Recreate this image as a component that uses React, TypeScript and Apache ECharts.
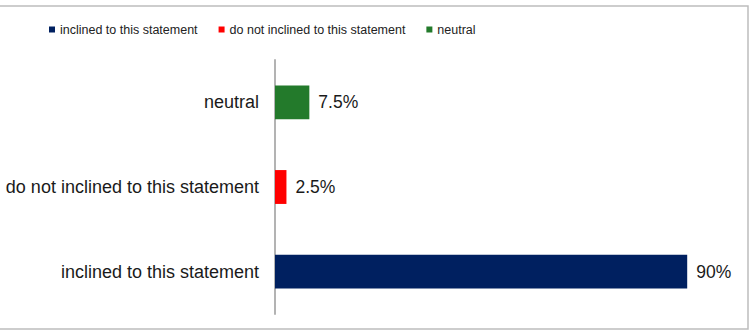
import React, { useEffect, useRef } from "react";
import * as echarts from "echarts";

const categories = [
  "inclined to this statement",
  "do not inclined to this statement",
  "neutral",
];
const seriesNames = [
  "inclined to this statement",
  "do not inclined to this statement",
  "neutral",
];
const values = [90, 2.5, 7.5];
const colors = ["#002060", "#ff0000", "#237a2b"];

export default function App() {
  const ref = useRef<HTMLDivElement>(null);
  useEffect(() => {
    if (!ref.current) return;
    const chart = echarts.init(ref.current, null, { renderer: "svg" });
    const font = "'Liberation Sans', Arial, sans-serif";
    chart.setOption({
      animation: false,
      backgroundColor: "#ffffff",
      textStyle: { fontFamily: font },
      graphic: [
        {
          type: "rect",
          shape: { x: -2, y: 6, width: 750, height: 323 },
          style: { fill: "none", stroke: "#bdbdbd", lineWidth: 1.5 },
          silent: true,
        },
      ],
      legend: {
        left: 49,
        top: 23,
        padding: 0,
        icon: "rect",
        itemWidth: 6,
        itemHeight: 6,
        itemGap: 21,
        textStyle: { fontFamily: font, fontSize: 12.5, color: "#222" },
        data: seriesNames,
      },
      grid: { left: 275, right: 19, top: 60, bottom: 21, containLabel: false },
      xAxis: {
        type: "value",
        min: 0,
        max: 100,
        show: false,
      },
      yAxis: {
        type: "category",
        data: categories,
        axisLine: { show: true, lineStyle: { color: "#b3b3b3", width: 2 } },
        axisTick: { show: false },
        axisLabel: {
          margin: 16,
          fontSize: 18,
          color: "#1a1a1a",
          fontFamily: font,
        },
        splitLine: { show: false },
      },
      series: seriesNames.map((name, i) => ({
        name,
        type: "bar",
        stack: "all",
        barWidth: "40%",
        itemStyle: { color: colors[i] },
        label: {
          show: true,
          position: "right",
          distance: 9,
          formatter: "{c}%",
          fontSize: 17.5,
          color: "#1a1a1a",
          fontFamily: font,
        },
        data: categories.map((_, j) => (j === i ? values[i] : "-")),
      })),
    });
    return () => chart.dispose();
  }, []);
  return (
    <div
      ref={ref}
      style={{ position: "absolute", left: 0, top: 0, width: 752, height: 335 }}
    />
  );
}
